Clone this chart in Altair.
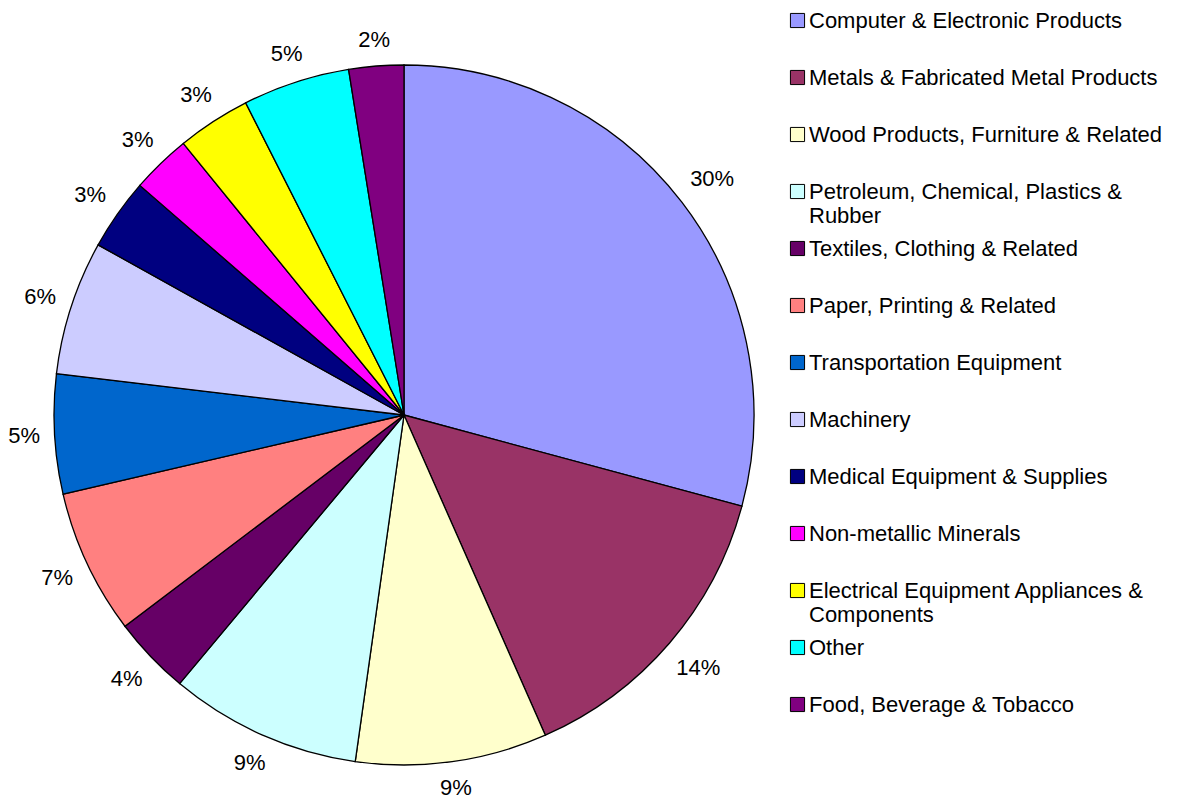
import altair as alt
import pandas as pd

categories = [
    "Computer & Electronic Products",
    "Metals & Fabricated Metal Products",
    "Wood Products, Furniture & Related",
    "Petroleum, Chemical, Plastics &\nRubber",
    "Textiles, Clothing & Related",
    "Paper, Printing & Related",
    "Transportation Equipment",
    "Machinery",
    "Medical Equipment & Supplies",
    "Non-metallic Minerals",
    "Electrical Equipment Appliances &\nComponents",
    "Other",
    "Food, Beverage & Tobacco",
]
values = [29.19, 14.19, 8.84, 8.85, 3.61, 6.68, 5.52, 6.19, 3.31, 2.75, 3.39, 4.94, 2.53]
pct_labels = ["30%", "14%", "9%", "9%", "4%", "7%", "5%", "6%", "3%", "3%", "3%", "5%", "2%"]
colors = ["#9999FF", "#993366", "#FFFFCC", "#CCFFFF", "#660066", "#FF8080", "#0066CC",
          "#CCCCFF", "#000080", "#FF00FF", "#FFFF00", "#00FFFF", "#800080"]

df = pd.DataFrame({
    "category": categories,
    "value": values,
    "pct": pct_labels,
    "idx": list(range(len(categories))),
})

FONT = "Liberation Sans"
FS = 22
color_scale = alt.Scale(domain=categories, range=colors)
CX, CY, R = 396, 407, 350
GAP, HH = 14, 11

base = alt.Chart(df)

pie = base.mark_arc(outerRadius=R, stroke="black", strokeWidth=1.3).encode(
    theta=alt.Theta("value:Q", stack=True),
    order=alt.Order("idx:Q"),
    color=alt.Color("category:N", scale=color_scale, legend=None),
    x=alt.value(CX),
    y=alt.value(CY),
)

pct = base.transform_joinaggregate(
    total="sum(value)"
).transform_window(
    cum="sum(value)", sort=[alt.SortField("idx")]
).transform_calculate(
    mid="datum.cum - datum.value/2",
).transform_calculate(
    ang="2*PI*datum.mid/datum.total",
    hw=f"((length(datum.pct)-1)*0.556 + 0.889)*{FS}/2",
).transform_calculate(
    r=f"{R + GAP} + abs(sin(datum.ang))*datum.hw + abs(cos(datum.ang))*{HH}"
).mark_text(font=FONT, fontSize=FS, color="black").encode(
    theta=alt.Theta("mid:Q", stack=None),
    radius=alt.Radius("r:Q", scale=None),
    text="pct:N",
    x=alt.value(CX),
    y=alt.value(CY),
)

yenc = alt.Y("category:N", sort=categories,
             scale=alt.Scale(type="point", range=[12.5, 696.5], padding=0), axis=None)

squares = base.mark_square(size=200, stroke="black", strokeWidth=1, opacity=1).encode(
    x=alt.value(789.5),
    y=yenc,
    color=alt.Color("category:N", scale=color_scale, legend=None),
)

legend_text = base.mark_text(align="left", baseline="alphabetic", dy=7.8, lineBreak="\n",
                             lineHeight=24, font=FONT, fontSize=FS, color="black").encode(
    x=alt.value(801),
    y=yenc,
    text="category:N",
)

chart = alt.layer(pie, pct, squares, legend_text).properties(
    width=1162, height=790, padding=0, autosize=alt.AutoSizeParams(type="none"),
).configure_view(stroke=None)

chart.save("out.html", embed_options={"renderer": "svg", "actions": False})
